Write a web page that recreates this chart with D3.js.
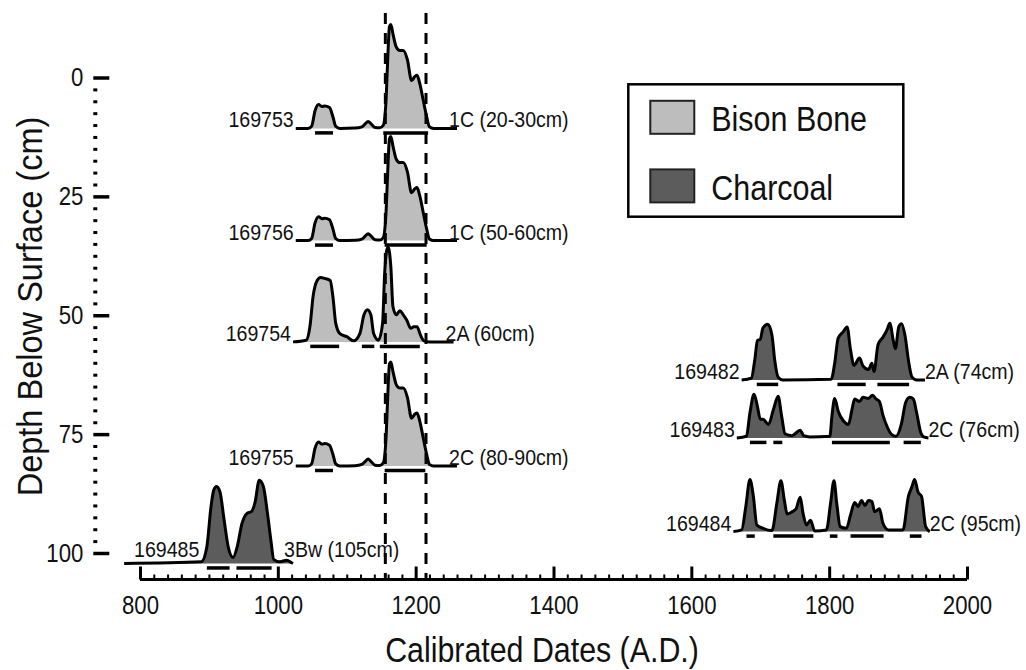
<!DOCTYPE html>
<html>
<head>
<meta charset="utf-8">
<script src="https://cdn.jsdelivr.net/npm/d3@7"></script>
<style>
  body { margin: 0; background: #fff; }
  text { font-family: "Liberation Sans", Arial, sans-serif; fill: #111; }
</style>
</head>
<body>
<svg id="chart" width="1026" height="670"></svg>
<script>
// calibrated age probability plots, one per dated sample
const sampleIds = ["169753", "169756", "169754", "169755", "169482", "169483", "169484", "169485"];
const horizons = ["1C (20-30cm)", "1C (50-60cm)", "2A (60cm)", "2C (80-90cm)", "2A (74cm)", "2C (76cm)", "2C (95cm)", "3Bw (105cm)"];
const materials = ["Bison Bone", "Bison Bone", "Bison Bone", "Bison Bone", "Charcoal", "Charcoal", "Charcoal", "Charcoal"];
// depth (cm) at which each plot sits on the y axis
const plotDepths = [10.7, 34.3, 55.6, 81.7, 63.6, 75.8, 95.5, 102.2];

// [year A.D., relative probability]
const boneProfile = [[1026,0],[1044,0],[1049,0.02],[1054,0.17],[1059,0.23],[1064,0.21],[1068,0.215],[1075,0.2],[1080,0.11],[1084,0.02],[1090,0],[1112,0.003],[1122,0.015],[1127,0.045],[1131,0.067],[1135,0.045],[1141,0.008],[1148,0.005],[1153,0.03],[1157,0.27],[1159,0.59],[1162,0.98],[1164,1.0],[1167,0.91],[1172,0.78],[1177,0.75],[1182,0.75],[1188,0.66],[1194,0.46],[1199,0.5],[1202,0.51],[1206,0.43],[1211,0.27],[1216,0.11],[1220,0.015],[1226,0],[1260,0]];
const p169754 = [[1022,0],[1041,0.016],[1047,0.17],[1051,0.43],[1057,0.59],[1062,0.62],[1068,0.61],[1076,0.59],[1080,0.43],[1084,0.18],[1090,0.08],[1100,0.05],[1110,0.01],[1119,0.08],[1125,0.26],[1130,0.31],[1135,0.26],[1139,0.08],[1146,0.016],[1152,0.18],[1155,0.66],[1158,0.88],[1160,0.91],[1164,0.72],[1167,0.34],[1172,0.26],[1177,0.3],[1182,0.26],[1187,0.21],[1193,0.13],[1197,0.145],[1202,0.145],[1207,0.065],[1212,0.01],[1220,0],[1255,0]];
const p169482 = [[1673,0],[1687,0.016],[1692,0.19],[1696,0.38],[1700,0.39],[1704,0.5],[1711,0.535],[1717,0.43],[1721,0.19],[1726,0.026],[1733,0],[1803,0.007],[1808,0.16],[1813,0.4],[1820,0.46],[1826,0.51],[1831,0.29],[1836,0.14],[1844,0.21],[1849,0.135],[1857,0.1],[1862,0.16],[1865,0.08],[1871,0.34],[1878,0.41],[1884,0.48],[1888,0.545],[1893,0.38],[1896,0.3],[1901,0.51],[1905,0.54],[1910,0.43],[1915,0.19],[1920,0.03],[1927,0],[1939,0]];
const p169483 = [[1666,0],[1680,0.016],[1685,0.24],[1691,0.42],[1696,0.3],[1700,0.18],[1704,0.18],[1712,0.13],[1719,0.27],[1726,0.4],[1731,0.21],[1736,0.04],[1746,0.022],[1758,0.074],[1763,0.022],[1772,0.01],[1801,0.016],[1804,0.21],[1808,0.38],[1813,0.26],[1820,0.17],[1828,0.13],[1833,0.27],[1837,0.375],[1844,0.35],[1849,0.39],[1857,0.38],[1863,0.41],[1868,0.375],[1873,0.35],[1878,0.22],[1884,0.11],[1891,0.03],[1897,0.016],[1905,0.14],[1911,0.34],[1917,0.39],[1922,0.375],[1927,0.24],[1933,0.05],[1938,0.007],[1944,0]];
const p169484 = [[1661,0],[1673,0.016],[1679,0.24],[1685,0.5],[1690,0.34],[1695,0.064],[1704,0.032],[1717,0.01],[1724,0.27],[1730,0.49],[1735,0.3],[1739,0.17],[1746,0.19],[1752,0.22],[1758,0.33],[1762,0.18],[1767,0.064],[1773,0.11],[1779,0.007],[1796,0.016],[1802,0.27],[1807,0.49],[1811,0.27],[1816,0.048],[1825,0.032],[1831,0.16],[1837,0.28],[1842,0.24],[1847,0.3],[1852,0.25],[1857,0.3],[1862,0.29],[1866,0.19],[1873,0.22],[1878,0.08],[1886,0.016],[1907,0.016],[1915,0.34],[1920,0.43],[1924,0.5],[1929,0.38],[1934,0.34],[1940,0.048],[1946,0]];
const p169485 = [[777,0],[889,0.016],[897,0.16],[903,0.545],[907,0.705],[911,0.74],[916,0.69],[922,0.42],[928,0.16],[935,0.058],[941,0.16],[948,0.385],[955,0.48],[962,0.5],[967,0.59],[973,0.8],[979,0.74],[985,0.48],[990,0.22],[994,0.04],[1003,0.016],[1013,0.032],[1020,0.007],[1022,0]];
const densities = [boneProfile, boneProfile, p169754, boneProfile, p169482, p169483, p169484, p169485];

// 2 sigma calibrated ranges drawn under each plot
const sigmaRanges = [
  [[1054,1080],[1153,1218]],
  [[1054,1080],[1155,1216]],
  [[1047,1089],[1122,1140],[1148,1206]],
  [[1054,1080],[1155,1214]],
  [[1695,1726],[1812,1853],[1870,1916]],
  [[1685,1709],[1719,1732],[1804,1888],[1908,1933]],
  [[1680,1692],[1719,1777],[1801,1812],[1831,1879],[1917,1934]],
  [[897,930],[940,991]]
];

const refYears = [1156, 1215];
const xMajor = [800, 1000, 1200, 1400, 1600, 1800, 2000];
const yMajor = [0, 25, 50, 75, 100];
const legendItems = ["Bison Bone", "Charcoal"];

const svg = d3.select("#chart");
const x = d3.scaleLinear().domain([800, 2000]).range([140, 967]);
const y = d3.scaleLinear().domain([0, 100]).range([77.5, 553]);
const h = d3.scaleLinear().domain([0, 1]).range([0, 104]);
const fill = d3.scaleOrdinal().domain(legendItems).range(["#bdbdbd", "#5c5c5c"]);

// the figure uses a condensed face; squeeze Liberation Sans horizontally
const SQ = 0.87;
function label(parent, px, py, str, size, anchor, k = SQ) {
  return parent.append("text")
    .attr("transform", `translate(${px},${py}) scale(${k},1)`)
    .attr("text-anchor", anchor || "start")
    .attr("font-size", size)
    .text(str);
}

sampleIds.forEach((id, i) => {
  const pts = densities[i];
  const base = y(plotDepths[i]);
  const g = svg.append("g").attr("class", "sample");

  g.append("path")
    .datum(pts)
    .attr("d", d3.area().x(d => x(d[0])).y0(base).y1(d => base - h(d[1])).curve(d3.curveMonotoneX))
    .attr("fill", fill(materials[i]));

  g.append("path")
    .datum(pts)
    .attr("d", d3.line().x(d => x(d[0])).y(d => base - h(d[1])).curve(d3.curveMonotoneX))
    .attr("fill", "none")
    .attr("stroke", "#000")
    .attr("stroke-width", 3)
    .attr("stroke-linejoin", "round");

  g.selectAll("line.range")
    .data(sigmaRanges[i])
    .join("line")
    .attr("class", "range")
    .attr("x1", d => x(d[0]))
    .attr("x2", d => x(d[1]))
    .attr("y1", base + 4.5)
    .attr("y2", base + 4.5)
    .attr("stroke", "#000")
    .attr("stroke-width", 3.5);

  // baseline that runs off the axis gets its labels lifted above it
  const start = pts[0][0], end = pts[pts.length - 1][0];
  const offAxis = start < x.domain()[0];
  const rise = pts.find(d => d[1] > 0)[0];
  const bone = materials[i] === "Bison Bone";
  const ly = offAxis ? base - 6 : base - 1;

  label(g, offAxis ? x(rise) - 2 : x(start) - 2, ly, id, 22.5, "end");
  label(g, offAxis ? x(end) - 9 : x(end) + (bone ? -8 : 0), ly, horizons[i], 22.5, "start");
});

// reference dates
svg.selectAll("line.ref")
  .data(refYears)
  .join("line")
  .attr("class", "ref")
  .attr("x1", d => x(d)).attr("x2", d => x(d))
  .attr("y1", 13).attr("y2", 579)
  .attr("stroke", "#000")
  .attr("stroke-width", 3)
  .attr("stroke-dasharray", "11,9");

// x axis
const xMinor = d3.range(800, 2001, 20).filter(v => !xMajor.includes(v));
const xAxisY = 579.5;
svg.append("line")
  .attr("x1", x(800)).attr("x2", x(2000))
  .attr("y1", xAxisY).attr("y2", xAxisY)
  .attr("stroke", "#000").attr("stroke-width", 3);

svg.append("g")
  .attr("transform", `translate(0,${xAxisY})`)
  .call(d3.axisTop(x).tickValues(xMinor).tickSize(5).tickSizeOuter(0).tickFormat(""))
  .call(g => g.select(".domain").remove())
  .call(g => g.selectAll("line").attr("stroke", "#000").attr("stroke-width", 2));

svg.append("g")
  .attr("transform", `translate(0,${xAxisY})`)
  .call(d3.axisTop(x).tickValues(xMajor).tickSize(13).tickSizeOuter(0).tickFormat(""))
  .call(g => g.select(".domain").remove())
  .call(g => g.selectAll("line").attr("stroke", "#000").attr("stroke-width", 3));

svg.append("g")
  .attr("transform", `translate(0,${xAxisY})`)
  .call(d3.axisBottom(x).tickValues(xMajor).tickSize(0).tickPadding(16).tickFormat(d3.format("d")))
  .call(g => g.select(".domain").remove())
  .call(g => g.selectAll("text")
    .attr("font-size", 25.5).attr("font-family", null).attr("fill", "#111")
    .attr("transform", `scale(${SQ},1)`));

// y axis (dotted)
const yMinor = d3.range(0, 100.1, 2.5).filter(v => !yMajor.includes(v));
const yAxisX = 93.3;
svg.append("g")
  .attr("transform", `translate(${yAxisX},0)`)
  .call(d3.axisRight(y).tickValues(yMinor).tickSize(4).tickFormat(""))
  .call(g => g.select(".domain").remove())
  .call(g => g.selectAll("line").attr("stroke", "#000").attr("stroke-width", 3));

svg.append("g")
  .attr("transform", `translate(${yAxisX},0)`)
  .call(d3.axisRight(y).tickValues(yMajor).tickSize(16).tickFormat(""))
  .call(g => g.select(".domain").remove())
  .call(g => g.selectAll("line").attr("stroke", "#000").attr("stroke-width", 3.5));

svg.append("g")
  .attr("transform", `translate(${yAxisX},0)`)
  .call(d3.axisLeft(y).tickValues(yMajor).tickSize(0).tickPadding(11.5))
  .call(g => g.select(".domain").remove())
  .call(g => g.selectAll("text")
    .attr("font-size", 25.5).attr("font-family", null).attr("fill", "#111")
    .attr("transform", `scale(${SQ},1)`));

// axis titles
label(svg, 542, 662, "Calibrated Dates (A.D.)", 34.5, "middle", 0.88);

svg.append("text")
  .attr("transform", "translate(42,306.5) rotate(-90) scale(0.93,1)")
  .attr("text-anchor", "middle")
  .attr("font-size", 35)
  .text("Depth Below Surface (cm)");

// legend
const legend = svg.append("g").attr("transform", "translate(628.3,84.3)");
legend.append("rect")
  .attr("width", 275).attr("height", 132.4)
  .attr("fill", "#fff").attr("stroke", "#000").attr("stroke-width", 2.5);

const items = legend.selectAll("g.item")
  .data(legendItems)
  .join("g")
  .attr("class", "item")
  .attr("transform", (d, i) => `translate(22,${16.5 + i * 68.6})`);

items.append("rect")
  .attr("width", 44).attr("height", 33)
  .attr("fill", d => fill(d))
  .attr("stroke", "#222").attr("stroke-width", 2);

items.each(function (d) {
  label(d3.select(this), 61, 30.5, d, 35, "start");
});
</script>
</body>
</html>
